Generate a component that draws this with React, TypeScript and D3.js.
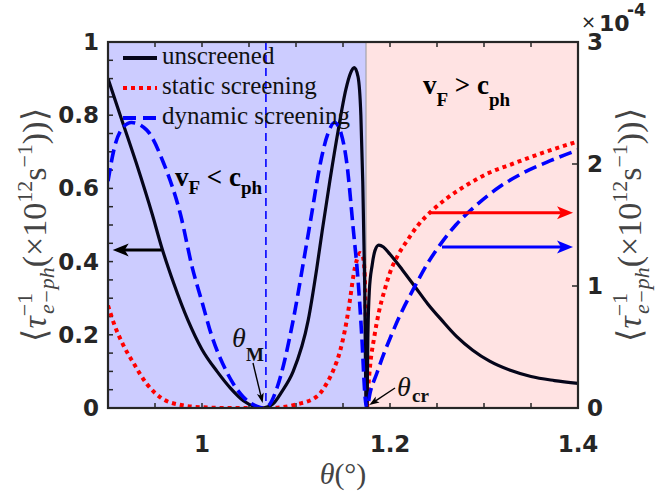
import React from 'react';
import * as d3 from 'd3';

const W = 658, H = 492;
const PL = 108, PR = 578, PT = 42, PB = 408;

// x domain and ticks
const xDomain = [0.9, 1.4];
const xMinorTicks = [0.9, 0.95, 1.0, 1.05, 1.1, 1.15, 1.2, 1.25, 1.3, 1.35, 1.4];
const xTickLabels = [1, 1.2, 1.4];
const yLeftMinorTicks = [0, 0.05, 0.1, 0.15, 0.2, 0.25, 0.3, 0.35, 0.4, 0.45, 0.5, 0.55, 0.6, 0.65, 0.7, 0.75, 0.8, 0.85, 0.9, 0.95, 1];
const yLeftTickLabels = [0, 0.2, 0.4, 0.6, 0.8, 1];
const yRightTicks = [0, 1, 2, 3];

// regions
const thetaM = 1.068;
const thetaCr = 1.1745;

// unscreened (left axis)
const thetaUnscr = [0.9, 0.913, 0.93, 0.947, 0.957, 0.97, 0.985, 1.0, 1.016, 1.03, 1.044, 1.055, 1.065, 1.075, 1.085, 1.097, 1.113, 1.122, 1.128, 1.136, 1.145, 1.153, 1.158, 1.162, 1.166, 1.169, 1.171, 1.173, 1.1745, 1.1755, 1.1765, 1.178, 1.181, 1.184, 1.188, 1.193, 1.2, 1.213, 1.227, 1.24, 1.255, 1.271, 1.288, 1.306, 1.328, 1.35, 1.375, 1.4];
const valUnscr = [0.9, 0.8, 0.67, 0.53, 0.44, 0.34, 0.24, 0.16, 0.10, 0.055, 0.02, 0.005, 0, 0.01, 0.045, 0.10, 0.24, 0.38, 0.486, 0.62, 0.76, 0.87, 0.915, 0.93, 0.905, 0.80, 0.62, 0.35, 0.02, 0.0, 0.2, 0.32, 0.39, 0.43, 0.445, 0.44, 0.42, 0.378, 0.33, 0.285, 0.24, 0.195, 0.158, 0.128, 0.103, 0.086, 0.075, 0.067];

// static screening (right axis, x1e-4)
const thetaStatic = [0.9, 0.9074, 0.916, 0.927, 0.941, 0.957, 0.978, 1.0, 1.03, 1.06, 1.08, 1.1007, 1.122, 1.1326, 1.1397, 1.147, 1.154, 1.1574, 1.161, 1.1646, 1.168, 1.171, 1.173, 1.1745, 1.1755, 1.177, 1.179, 1.183, 1.188, 1.194, 1.2, 1.209, 1.2177, 1.23, 1.245, 1.26, 1.28, 1.306, 1.33, 1.36, 1.4];
const valStatic = [0.84, 0.67, 0.52, 0.37, 0.20, 0.08, 0.024, 0.006, 0, 0, 0.003, 0.03, 0.093, 0.2, 0.31, 0.47, 0.72, 0.885, 1.08, 1.21, 1.27, 1.245, 1.11, 0.6, 0, 0.18, 0.36, 0.57, 0.78, 0.96, 1.11, 1.26, 1.365, 1.5, 1.62, 1.716, 1.82, 1.93, 2.0, 2.085, 2.185];

// dynamic screening (right axis, x1e-4)
const thetaDyn = [0.9, 0.907, 0.916, 0.925, 0.941, 0.959, 0.977, 0.99, 1.0, 1.01, 1.026, 1.044, 1.058, 1.065, 1.072, 1.08, 1.097, 1.108, 1.116, 1.126, 1.134, 1.141, 1.148, 1.154, 1.161, 1.166, 1.17, 1.1735, 1.1755, 1.1787, 1.186, 1.193, 1.2, 1.211, 1.227, 1.24, 1.253, 1.27, 1.29, 1.317, 1.34, 1.37, 1.4];
const valDyn = [1.86, 2.14, 2.30, 2.34, 2.28, 2.01, 1.59, 1.14, 0.87, 0.60, 0.30, 0.09, 0.015, 0, 0.03, 0.17, 0.72, 1.20, 1.56, 2.01, 2.25, 2.34, 2.25, 2.01, 1.46, 1.05, 0.585, 0.09, 0, 0.12, 0.285, 0.435, 0.57, 0.765, 1.005, 1.185, 1.335, 1.5, 1.65, 1.815, 1.92, 2.025, 2.115];

// axis-pointer arrows: [theta start, theta end, value]
const arrowLeft = [0.957, 0.905, 0.432];
const arrowStatic = [1.2426, 1.3947, 1.6];
const arrowDyn = [1.2553, 1.3947, 1.32];

const legendLabels = ['unscreened', 'static screening', 'dynamic screening'];

const x = d3.scaleLinear().domain(xDomain).range([PL, PR]);
const yL = d3.scaleLinear().domain([0, 1]).range([PB, PT]);
const yR = d3.scaleLinear().domain([0, 3]).range([PB, PT]);

const AX = '#262626';
const TICKFONT = "'DejaVu Sans', sans-serif";
const SERIF = "'Liberation Serif', 'Times New Roman', serif";

function head(x1: number, y1: number, x2: number, y2: number, len: number, wid: number) {
  const a = Math.atan2(y2 - y1, x2 - x1);
  const bx = x2 - len * Math.cos(a), by = y2 - len * Math.sin(a);
  const nx = -Math.sin(a) * wid / 2, ny = Math.cos(a) * wid / 2;
  return `M${x2},${y2}L${bx + nx},${by + ny}L${bx + len * 0.25 * Math.cos(a)},${by + len * 0.25 * Math.sin(a)}L${bx - nx},${by - ny}Z`;
}

function Arrow({ x1, y1, x2, y2, color, w, len, wid }: any) {
  const a = Math.atan2(y2 - y1, x2 - x1);
  const ex = x2 - len * 0.7 * Math.cos(a), ey = y2 - len * 0.7 * Math.sin(a);
  return (
    <g>
      <line x1={x1} y1={y1} x2={ex} y2={ey} stroke={color} strokeWidth={w} />
      <path d={head(x1, y1, x2, y2, len, wid)} fill={color} />
    </g>
  );
}

export default function App() {
  const lineL = d3.line<number>().x((_, i) => x(thetaUnscr[i])).y((d) => yL(d)).curve(d3.curveMonotoneX);
  const lineS = d3.line<number>().x((_, i) => x(thetaStatic[i])).y((d) => yR(d)).curve(d3.curveMonotoneX);
  const lineD = d3.line<number>().x((_, i) => x(thetaDyn[i])).y((d) => yR(d)).curve(d3.curveMonotoneX);

  const legendY = [58, 88, 118];

  return (
    <svg width={W} height={H} style={{ position: 'absolute', left: 0, top: 0, background: '#fff' }}>
      <defs>
        <clipPath id="plot">
          <rect x={PL} y={PT - 2} width={PR - PL} height={PB - PT + 2} />
        </clipPath>
      </defs>
      {/* regions */}
      <rect x={x(0.9)} y={PT} width={x(thetaCr) - x(0.9)} height={PB - PT} fill="#ccccff" />
      <rect x={x(thetaCr)} y={PT} width={x(1.4) - x(thetaCr)} height={PB - PT} fill="#ffe3e3" />
      <line x1={x(thetaCr)} x2={x(thetaCr)} y1={PT} y2={PB} stroke="#9a9a9a" strokeWidth={1} />

      {/* theta_M dashed */}
      <line x1={x(thetaM)} x2={x(thetaM)} y1={PT} y2={PB} stroke="#0000ff" strokeWidth={1.6} strokeDasharray="8 5" />

      {/* ticks */}
      {xMinorTicks.map((t) => (
        <g key={'xt' + t}>
          <line x1={x(t)} x2={x(t)} y1={PB} y2={PB - 5} stroke={AX} strokeWidth={1.5} />
          <line x1={x(t)} x2={x(t)} y1={PT} y2={PT + 5} stroke={AX} strokeWidth={1.5} />
        </g>
      ))}
      {yLeftMinorTicks.map((t) => (
        <line key={'yl' + t} x1={PL} x2={PL + 5} y1={yL(t)} y2={yL(t)} stroke={AX} strokeWidth={1.5} />
      ))}
      {yRightTicks.map((t) => (
        <line key={'yr' + t} x1={PR} x2={PR - 6} y1={yR(t)} y2={yR(t)} stroke={AX} strokeWidth={1.5} />
      ))}

      {/* curves */}
      <g clipPath="url(#plot)" fill="none">
        <path d={lineS(valStatic) || ''} stroke="#ff0000" strokeWidth={4} strokeDasharray="4 4" />
        <path d={lineL(valUnscr) || ''} stroke="#05051a" strokeWidth={3.2} />
        <path d={lineD(valDyn) || ''} stroke="#0000ff" strokeWidth={3.6} strokeDasharray="13 6" />
      </g>

      {/* frame */}
      <rect x={PL} y={PT} width={PR - PL} height={PB - PT} fill="none" stroke={AX} strokeWidth={2.2} />

      {/* axis pointer arrows */}
      <Arrow x1={x(arrowLeft[0])} y1={yL(arrowLeft[2])} x2={x(arrowLeft[1])} y2={yL(arrowLeft[2])} color="#000" w={3} len={16} wid={13} />
      <Arrow x1={x(arrowStatic[0])} y1={yR(arrowStatic[2])} x2={x(arrowStatic[1])} y2={yR(arrowStatic[2])} color="#ff0000" w={3} len={16} wid={13} />
      <Arrow x1={x(arrowDyn[0])} y1={yR(arrowDyn[2])} x2={x(arrowDyn[1])} y2={yR(arrowDyn[2])} color="#0000ff" w={3} len={16} wid={13} />

      {/* theta annotations */}
      <Arrow x1={253} y1={363} x2={x(1.0645)} y2={403} color="#000" w={1.4} len={10} wid={7} />
      <Arrow x1={395} y1={388} x2={x(1.178)} y2={405} color="#000" w={1.4} len={10} wid={7} />
      <text x={232} y={347} fontFamily={SERIF} fontStyle="italic" fontSize={28} fill="#111">θ</text>
      <text x={246} y={361} fontFamily={SERIF} fontWeight="bold" fontSize={19} fill="#111">M</text>
      <text x={397} y={396} fontFamily={SERIF} fontStyle="italic" fontSize={28} fill="#111">θ</text>
      <text x={412} y={402} fontFamily={SERIF} fontWeight="bold" fontSize={19} fill="#111">cr</text>

      {/* regime labels */}
      <text x={175} y={186} fontFamily={SERIF} fontWeight="bold" fontSize={27} fill="#000">
        v<tspan fontSize={19} dy={8}>F</tspan><tspan dy={-8}> &lt; c</tspan><tspan fontSize={19} dy={8}>ph</tspan>
      </text>
      <text x={423} y={94} fontFamily={SERIF} fontWeight="bold" fontSize={27} fill="#000">
        v<tspan fontSize={19} dy={12}>F</tspan><tspan dy={-12}> &gt; c</tspan><tspan fontSize={19} dy={12}>ph</tspan>
      </text>

      {/* legend */}
      <line x1={123} x2={157} y1={legendY[0]} y2={legendY[0]} stroke="#05051a" strokeWidth={4} />
      <line x1={123} x2={157} y1={legendY[1]} y2={legendY[1]} stroke="#ff0000" strokeWidth={4} strokeDasharray="4 4" />
      <line x1={123} x2={157} y1={legendY[2]} y2={legendY[2]} stroke="#0000ff" strokeWidth={4} strokeDasharray="13 7" />
      {legendLabels.map((l, i) => (
        <text key={l} x={162} y={legendY[i] + 6} fontFamily={SERIF} fontSize={25} fill="#111">{l}</text>
      ))}

      {/* tick labels */}
      {xTickLabels.map((t) => (
        <text key={'xl' + t} x={x(t)} y={452} textAnchor="middle" fontFamily={TICKFONT} fontWeight="bold" fontSize={23} fill={AX}>{String(t)}</text>
      ))}
      {yLeftTickLabels.map((t) => (
        <text key={'yll' + t} x={99} y={yL(t) + 8} textAnchor="end" fontFamily={TICKFONT} fontWeight="bold" fontSize={23} fill={AX}>{String(t)}</text>
      ))}
      {yRightTicks.map((t) => (
        <text key={'yrl' + t} x={587} y={yR(t) + 8} textAnchor="start" fontFamily={TICKFONT} fontWeight="bold" fontSize={23} fill={AX}>{String(t)}</text>
      ))}
      <text x={581} y={28} fontFamily={TICKFONT} fontSize={18} fill={AX}>×</text>
      <text x={599} y={31} fontFamily={TICKFONT} fontWeight="bold" fontSize={22} fill={AX}>10</text>
      <text x={627} y={16} fontFamily={TICKFONT} fontWeight="bold" fontSize={17} fill={AX}>-4</text>

      {/* axis titles */}
      <text x={343} y={484} textAnchor="middle" fontFamily={SERIF} fontSize={30} fill="#444">
        <tspan fontStyle="italic">θ</tspan>(°)
      </text>
      {[{ cx: 46 }, { cx: 641 }].map((o, k) => (
        <text key={'yt' + k} transform={`translate(${o.cx},225) rotate(-90)`} textAnchor="middle" fontFamily={SERIF} fontSize={34} fill="#444">
          ⟨<tspan fontStyle="italic">τ</tspan><tspan fontSize={22} dy={-14}>−1</tspan><tspan fontSize={22} fontStyle="italic" dx={-21} dy={22}>e−ph</tspan><tspan dy={-8}>(×10</tspan><tspan fontSize={22} dy={-14}>12</tspan><tspan dy={14}>s</tspan><tspan fontSize={22} dy={-14}>−1</tspan><tspan dy={14}>))⟩</tspan>
        </text>
      ))}
    </svg>
  );
}
